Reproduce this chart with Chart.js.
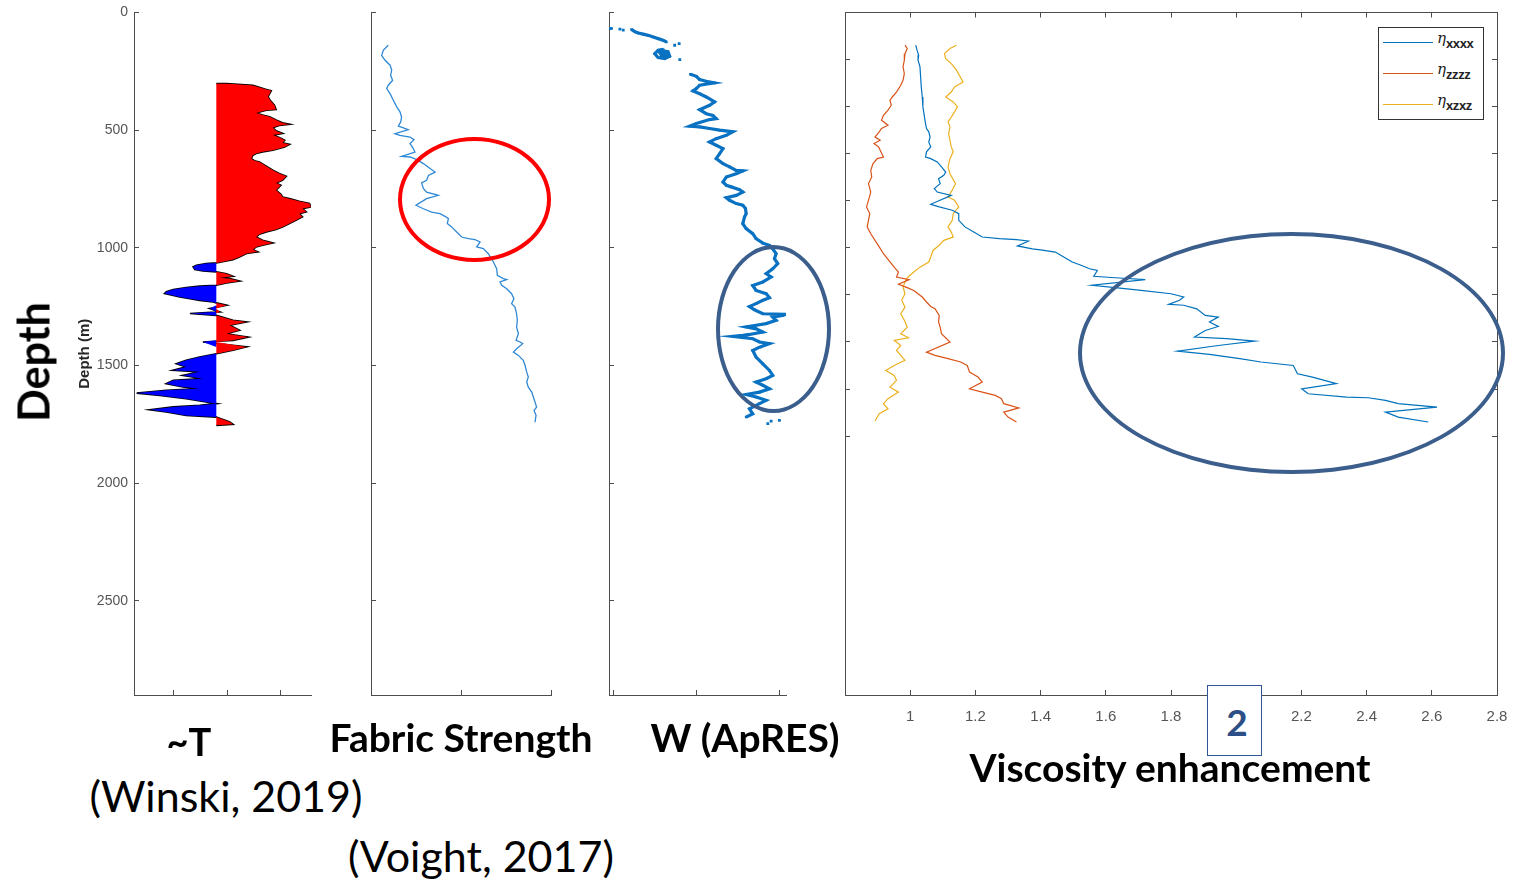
<!DOCTYPE html>
<html>
<head>
<meta charset="utf-8">
<script src="https://cdn.jsdelivr.net/npm/chart.js@4.4.1/dist/chart.umd.min.js"></script>
<style>
  html, body { margin: 0; padding: 0; background: #fff; }
  #stage { position: relative; width: 1515px; height: 879px; overflow: hidden; background: #fff; }
  #stage canvas { position: absolute; top: 0; }
  .lbl { position: absolute; transform: translate(-50%, -50%); white-space: nowrap;
         font-family: Lato, 'Open Sans', sans-serif; color: #000; }
  .bold { font-weight: 700; }
  .ring { position: absolute; box-sizing: border-box; border-radius: 50%; }
  #legend { position: absolute; left: 1378px; top: 27px; width: 106px; height: 93px;
            box-sizing: border-box; border: 1px solid #333; background: #fff; }
  .legRow { position: relative; height: 31px; }
  .legLine { position: absolute; left: 4px; top: 14px; width: 50px; border-top: 1.3px solid; }
  .legText { position: absolute; left: 58px; top: 1px; font-family: 'DejaVu Serif', serif; font-size: 15px; color: #222; }
  .legText sub { font-family: 'Liberation Sans', sans-serif; font-weight: 700; font-size: 13px; vertical-align: -5px; letter-spacing: -0.4px; }
  #boxTwo { position: absolute; left: 1207px; top: 685px; width: 55px; height: 71px; box-sizing: border-box;
            border: 1.5px solid #2F5597; background: #fff; }
</style>
</head>
<body>
<div id="stage">
  <canvas id="chartT" width="290" height="740" style="left:40px"></canvas>
  <canvas id="chartFabric" width="240" height="740" style="left:331px"></canvas>
  <canvas id="chartApres" width="235" height="740" style="left:571px"></canvas>
  <canvas id="chartVisc" width="710" height="740" style="left:805px"></canvas>

  <div class="ring" style="left:398px;top:137px;width:153px;height:125px;border:4.5px solid #FF0000"></div>
  <div class="ring" style="left:716px;top:245px;width:115px;height:168px;border:4px solid #3B5E8C"></div>
  <div class="ring" style="left:1078px;top:232px;width:427px;height:242px;border:4.5px solid #3B5E8C"></div>

  <div id="legend"></div>
  <div id="boxTwo"></div>
  <div class="lbl bold" style="left:1237px;top:721px;font-size:37px;color:#2B4F86">2</div>

  <div class="lbl bold" style="left:33px;top:362px;font-size:43px;transform:translate(-50%,-50%) rotate(-90deg)">Depth</div>
  <div class="lbl bold" style="left:189px;top:741px;font-size:38px">~T</div>
  <div class="lbl bold" style="left:461px;top:737px;font-size:39px">Fabric Strength</div>
  <div class="lbl bold" style="left:745px;top:737px;font-size:39px">W (ApRES)</div>
  <div class="lbl bold" style="left:1170px;top:767px;font-size:39px">Viscosity enhancement</div>
  <div class="lbl" style="left:226px;top:795px;font-size:43px">(Winski, 2019)</div>
  <div class="lbl" style="left:481px;top:855px;font-size:43px">(Voight, 2017)</div>
</div>

<script>
// ---- data: [depth (m), value] ----
const depthTicks = [0, 500, 1000, 1500, 2000, 2500];
const viscDepthTicks = [200, 400, 600, 800, 1000, 1200, 1400, 1600, 1800];
const tempTicks = [-0.8, 0.2, 1.2];
const fabricTicks = [0, 0.5, 1];
const apresTicks = [0, 0.5, 1];
const viscTicks = [1, 1.2, 1.4, 1.6, 1.8, 2, 2.2, 2.4, 2.6, 2.8];

const tempProfile = [
  [302,0],[302,0.19],[310,0.68],[327,0.93],[333,1.02],[358,0.96],[373,1.00],[394,1.08],[412,1.11],[415,0.93],
  [427,0.74],[436,0.86],[443,0.99],[457,1.11],[469,1.23],[475,1.36],[480,1.17],[489,1.05],[503,1.11],[514,1.23],
  [521,1.05],[531,1.17],[543,1.27],[554,1.23],[560,1.36],[571,1.27],[578,1.17],[585,1.05],[592,0.86],[599,0.74],
  [606,0.68],[621,0.65],[630,0.71],[635,0.80],[653,0.93],[670,1.05],[684,1.17],[696,1.30],[713,1.23],[724,1.11],
  [734,1.20],[755,1.11],[772,1.20],[784,1.23],[791,1.36],[802,1.54],[812,1.73],[826,1.76],[833,1.60],[847,1.67],
  [855,1.54],[868,1.60],[883,1.48],[897,1.36],[911,1.23],[922,1.11],[932,0.93],[942,0.80],[954,0.74],[968,0.86],
  [979,1.05],[989,0.86],[996,0.74],[1008,0.68],[1017,0.77],[1024,0.56],[1039,0.43],[1050,0.31],[1056,0.19],[1064,0],
  [1067,-0.19],[1074,-0.37],[1081,-0.43],[1092,-0.40],[1098,-0.25],[1102,0],[1110,0.19],[1121,0.31],[1127,0.06],[1131,0.25],
  [1141,0.43],[1149,0.19],[1159,0],[1163,-0.31],[1169,-0.56],[1177,-0.80],[1187,-0.93],[1194,-0.96],[1202,-0.80],[1209,-0.68],
  [1216,-0.49],[1223,-0.31],[1230,-0.06],[1234,0],[1244,0.19],[1258,-0.12],[1272,0.06],[1279,-0.49],[1287,0],[1308,0.31],
  [1315,0.56],[1329,0.25],[1350,0.43],[1365,0.19],[1379,0.59],[1393,0.31],[1400,-0.25],[1421,0.56],[1435,0.31],[1450,0],
  [1464,-0.31],[1478,-0.56],[1492,-0.74],[1506,-0.56],[1520,-0.80],[1527,-0.31],[1542,-0.62],[1556,-0.25],[1563,-0.80],[1577,-0.93],
  [1591,-0.62],[1598,-0.31],[1605,-0.93],[1617,-1.48],[1627,-1.05],[1641,-0.56],[1655,-0.19],[1662,0],[1669,-0.31],[1676,-0.80],
  [1688,-1.23],[1697,-0.93],[1712,-0.56],[1719,0],[1740,0.25],[1750,0.31],[1754,0]
];

const fabricStrength = [
  [139,0.096],[160,0.069],[182,0.059],[203,0.078],[224,0.106],[245,0.115],[267,0.109],[288,0.120],[309,0.096],[323,0.087],
  [345,0.106],[373,0.124],[401,0.143],[422,0.161],[444,0.170],[465,0.165],[483,0.152],[489,0.176],[498,0.207],[515,0.133],
  [522,0.161],[529,0.217],[540,0.239],[557,0.217],[578,0.235],[593,0.244],[611,0.170],[614,0.217],[625,0.254],[642,0.291],
  [663,0.328],[678,0.356],[692,0.319],[713,0.309],[724,0.281],[748,0.291],[763,0.309],[777,0.374],[791,0.309],[819,0.250],
  [834,0.291],[848,0.337],[855,0.383],[866,0.411],[876,0.430],[897,0.424],[911,0.448],[933,0.476],[954,0.504],[961,0.541],
  [965,0.578],[975,0.606],[996,0.587],[1003,0.624],[1025,0.652],[1060,0.680],[1089,0.698],[1117,0.702],[1131,0.735],[1135,0.754],
  [1145,0.717],[1159,0.726],[1174,0.754],[1195,0.781],[1216,0.794],[1237,0.781],[1252,0.800],[1280,0.809],[1308,0.813],[1337,0.809],
  [1365,0.819],[1393,0.806],[1400,0.828],[1407,0.843],[1429,0.809],[1443,0.791],[1457,0.819],[1478,0.846],[1500,0.856],[1528,0.865],
  [1549,0.874],[1570,0.865],[1592,0.874],[1613,0.893],[1634,0.902],[1677,0.920],[1691,0.906],[1712,0.917],[1741,0.911]
];

// ApRES vertical velocity trace; null marks a break in the record
const apresW = [
  [68,-0.048],[68,-0.014],[68,null],
  [72,0.106],[82,0.127],[87,0.147],[92,0.177],[97,0.207],[104,0.237],[111,0.267],[118,0.297],[125,0.317],[125,null],
  [157,0.297],[160,0.267],[175,0.247],[191,0.267],[196,0.307],[186,0.337],[167,0.327],[162,0.297],[170,0.277],[182,0.287],
  [188,0.307],[178,0.317],[172,0.297],[172,null],
  [262,0.462],[271,0.498],[285,0.518],[292,0.558],[299,0.608],[309,0.518],[323,0.498],[333,0.478],[345,0.518],[359,0.558],
  [380,0.608],[394,0.578],[413,0.518],[430,0.558],[437,0.598],[451,0.618],[455,0.578],[472,0.498],[483,0.458],[486,0.518],
  [493,0.578],[500,0.639],[507,0.719],[522,0.679],[536,0.618],[550,0.578],[564,0.618],[578,0.659],[600,0.639],[621,0.618],
  [642,0.659],[656,0.699],[671,0.739],[673,0.779],[685,0.739],[699,0.679],[720,0.659],[734,0.679],[741,0.709],[753,0.759],
  [763,0.779],[777,0.739],[787,0.679],[798,0.699],[812,0.739],[819,0.779],[833,0.795],[855,0.799],[869,0.789],[897,0.779],
  [918,0.799],[940,0.839],[961,0.859],[980,0.900],[990,0.940],[1004,0.960],[1025,0.980],[1046,0.970],[1067,0.990],[1089,0.960],
  [1110,0.920],[1124,0.950],[1145,0.900],[1160,0.839],[1181,0.859],[1195,0.920],[1212,0.940],[1223,0.900],[1237,0.859],[1249,0.819],
  [1263,0.849],[1280,0.900],[1283,1.040],[1287,1.020],[1294,0.960],[1308,0.980],[1322,0.920],[1329,0.859],[1336,0.799],[1344,0.859],
  [1358,0.900],[1368,0.819],[1372,0.779],[1376,0.719],[1386,0.839],[1400,0.880],[1407,0.940],[1422,0.880],[1436,0.839],[1464,0.859],
  [1493,0.900],[1521,0.940],[1542,0.960],[1556,0.920],[1570,0.859],[1584,0.900],[1599,0.940],[1613,0.880],[1623,0.799],[1634,0.859],
  [1648,0.920],[1662,0.880],[1684,0.819],[1705,0.839],[1719,0.799]
];
const apresDots = [[71,0.036],[75,0.056],[132,0.394],[139,0.367],[200,0.398],[1736,0.950],[1733,1.000],[1747,0.930]];

const etaXXXX = [
  [139,1.017],[160,1.021],[182,1.026],[203,1.024],[231,1.030],[274,1.032],[316,1.034],[359,1.037],[401,1.039],[437,1.043],
  [472,1.047],[493,1.050],[507,1.057],[529,1.061],[550,1.057],[571,1.063],[592,1.050],[614,1.047],[621,1.063],[635,1.083],
  [656,1.096],[678,1.109],[692,1.103],[706,1.087],[727,1.092],[748,1.074],[763,1.083],[777,1.126],[815,1.063],[826,1.089],
  [840,1.129],[855,1.149],[883,1.149],[911,1.168],[933,1.195],[954,1.221],[961,1.274],[965,1.326],[971,1.363],[992,1.329],
  [1004,1.375],[1010,1.405],[1018,1.445],[1039,1.471],[1060,1.497],[1074,1.524],[1089,1.550],[1096,1.574],[1121,1.563],[1127,1.629],
  [1135,1.721],[1159,1.557],[1169,1.629],[1181,1.708],[1195,1.800],[1209,1.839],[1223,1.826],[1240,1.793],[1244,1.839],[1259,1.879],
  [1287,1.905],[1294,1.945],[1315,1.918],[1334,1.945],[1351,1.905],[1379,1.872],[1386,1.971],[1396,2.057],[1415,1.945],[1439,1.820],
  [1453,1.918],[1471,2.011],[1485,2.076],[1500,2.175],[1535,2.188],[1549,2.234],[1577,2.307],[1599,2.201],[1620,2.221],[1634,2.339],
  [1637,2.405],[1648,2.458],[1662,2.497],[1677,2.616],[1698,2.458],[1719,2.497],[1740,2.589]
];
const etaZZZZ = [
  [139,0.984],[153,0.991],[175,0.984],[203,0.982],[231,0.978],[260,0.982],[288,0.978],[309,0.971],[338,0.958],[359,0.945],
  [373,0.938],[394,0.942],[415,0.932],[437,0.918],[458,0.912],[479,0.932],[493,0.912],[507,0.905],[529,0.892],[543,0.908],
  [557,0.889],[571,0.903],[614,0.918],[621,0.899],[642,0.886],[671,0.879],[699,0.882],[727,0.872],[763,0.879],[798,0.872],
  [826,0.866],[855,0.876],[883,0.872],[911,0.868],[940,0.879],[968,0.892],[996,0.905],[1025,0.918],[1060,0.938],[1082,0.951],
  [1103,0.964],[1124,0.958],[1135,0.997],[1155,0.964],[1169,0.991],[1181,1.011],[1209,1.037],[1230,1.050],[1249,1.063],[1259,1.076],
  [1287,1.089],[1315,1.087],[1337,1.092],[1365,1.096],[1400,1.122],[1443,1.050],[1457,1.076],[1471,1.116],[1485,1.155],[1500,1.175],
  [1528,1.182],[1549,1.208],[1570,1.221],[1599,1.182],[1613,1.221],[1627,1.261],[1641,1.280],[1662,1.287],[1680,1.333],[1698,1.287],
  [1719,1.300],[1740,1.326]
];
const etaXZXZ = [
  [139,1.142],[153,1.122],[175,1.105],[196,1.109],[217,1.126],[245,1.142],[295,1.162],[316,1.136],[338,1.126],[359,1.109],
  [380,1.132],[401,1.145],[422,1.136],[444,1.126],[465,1.116],[486,1.122],[515,1.118],[543,1.122],[571,1.126],[592,1.132],
  [621,1.122],[656,1.116],[685,1.122],[727,1.139],[755,1.129],[784,1.116],[798,1.136],[826,1.149],[855,1.132],[883,1.129],
  [911,1.116],[933,1.126],[954,1.132],[968,1.103],[989,1.089],[1011,1.070],[1039,1.063],[1060,1.057],[1082,1.030],[1103,1.011],
  [1127,0.991],[1145,0.984],[1166,0.978],[1195,0.984],[1223,0.974],[1252,0.984],[1280,0.971],[1308,0.982],[1337,0.991],[1365,0.971],
  [1382,0.995],[1393,0.951],[1415,0.971],[1436,0.958],[1457,0.971],[1478,0.984],[1500,0.951],[1521,0.925],[1542,0.951],[1563,0.958],
  [1592,0.938],[1613,0.964],[1641,0.932],[1662,0.918],[1684,0.932],[1705,0.905],[1736,0.892]
];

// ---- shared styling ----
const AXIS = '#4d4d4d';
const DEPTH_MAX = 2900;
Chart.defaults.font.family = "'Liberation Sans', Arial, sans-serif";
Chart.defaults.animation = false;

const pts = (rows, fn) => rows.map(([d, v]) => ({ x: v === null ? null : (fn ? fn(v) : v), y: d }));
const fixedTicks = list => scale => { scale.ticks = list.map(v => ({ value: v })); };

// fixed axis sizes so every panel's plot box sits where it should; edge labels must not shrink it
function depthAxis(width, list, extra) {
  return Object.assign({
    type: 'linear', position: 'left', reverse: true, min: 0, max: DEPTH_MAX,
    afterBuildTicks: fixedTicks(list),
    afterFit: s => { s.width = width; s.paddingTop = 0; s.paddingBottom = 0; },
    grid: { drawOnChartArea: false, tickLength: -5, color: AXIS, tickWidth: 1 },
    border: { color: AXIS, width: 1 },
    ticks: { display: false }
  }, extra || {});
}
function valueAxis(min, max, list, height, extra) {
  return Object.assign({
    type: 'linear', position: 'bottom', min, max,
    afterBuildTicks: fixedTicks(list),
    afterFit: s => { s.height = height; s.paddingLeft = 0; s.paddingRight = 0; },
    grid: { drawOnChartArea: false, tickLength: -5, color: AXIS, tickWidth: 1 },
    border: { color: AXIS, width: 1 },
    ticks: { display: false }
  }, extra || {});
}
const baseOptions = (scales, padding) => ({
  responsive: false, devicePixelRatio: 1, indexAxis: 'y',
  layout: { padding },
  plugins: { legend: { display: false }, tooltip: { enabled: false } },
  elements: { point: { radius: 0 }, line: { tension: 0 } },
  scales
});

// ---- ~T: warm/cold fill around the baseline ----
new Chart(document.getElementById('chartT'), {
  type: 'line',
  data: { datasets: [
    { data: pts(tempProfile, v => Math.max(v, 0)), borderWidth: 0, fill: 'origin', backgroundColor: '#FF0000' },
    { data: pts(tempProfile, v => Math.min(v, 0)), borderWidth: 0, fill: 'origin', backgroundColor: '#0000FF' },
    { data: pts(tempProfile), borderColor: '#000', borderWidth: 1.7, fill: false }
  ]},
  options: baseOptions({
    y: depthAxis(94, depthTicks, {
      ticks: { display: true, padding: 11, color: '#555', font: { size: 14 }, callback: v => String(v) },
      title: { display: true, text: 'Depth (m)', color: '#262626', font: { size: 15, weight: 'bold' }, padding: { top: 36, bottom: 0 } }
    }),
    x: valueAxis(-1.53, 1.76, tempTicks, 45)
  }, { left: 0, top: 12.5, right: 19, bottom: 0 })
});

// ---- Fabric strength ----
new Chart(document.getElementById('chartFabric'), {
  type: 'line',
  data: { datasets: [
    { data: pts(fabricStrength), borderColor: '#2F89D6', borderWidth: 1.3, fill: false }
  ]},
  options: baseOptions({
    y: depthAxis(40, depthTicks),
    x: valueAxis(0, 1, fabricTicks, 45)
  }, { left: 0, top: 12.5, right: 20, bottom: 0 })
});

// ---- W (ApRES) ----
new Chart(document.getElementById('chartApres'), {
  type: 'line',
  data: { datasets: [
    { data: pts(apresW), borderColor: '#0A72C2', borderWidth: 3.2, fill: false, spanGaps: false,
      pointRadius: 1.8, pointStyle: 'rect', pointBackgroundColor: '#0A72C2', pointBorderWidth: 0 },
    { data: pts(apresDots), showLine: false, pointRadius: 2, pointStyle: 'rect',
      pointBackgroundColor: '#0A72C2', pointBorderWidth: 0 }
  ]},
  options: baseOptions({
    y: depthAxis(38, depthTicks),
    x: valueAxis(-0.03, 1.04, apresTicks, 45)
  }, { left: 0, top: 12.5, right: 20, bottom: 0 })
});

// ---- Viscosity enhancement, with an HTML legend for the subscripts ----
const htmlLegend = {
  id: 'htmlLegend',
  afterUpdate(chart) {
    const box = document.getElementById('legend');
    box.innerHTML = '';
    chart.options.plugins.legend.labels.generateLabels(chart).forEach(item => {
      const row = document.createElement('div');
      row.className = 'legRow';
      const line = document.createElement('span');
      line.className = 'legLine';
      line.style.borderTopColor = item.strokeStyle;
      const text = document.createElement('span');
      text.className = 'legText';
      text.innerHTML = '<i>' + item.text.charAt(0) + '</i><sub>' + item.text.slice(1) + '</sub>';
      row.appendChild(line);
      row.appendChild(text);
      box.appendChild(row);
    });
  }
};

new Chart(document.getElementById('chartVisc'), {
  type: 'line',
  data: { datasets: [
    { label: 'ηxxxx', data: pts(etaXXXX), borderColor: '#0072BD', borderWidth: 1.2, fill: false },
    { label: 'ηzzzz', data: pts(etaZZZZ), borderColor: '#D95319', borderWidth: 1.2, fill: false },
    { label: 'ηxzxz', data: pts(etaXZXZ), borderColor: '#EDB120', borderWidth: 1.2, fill: false }
  ]},
  options: baseOptions({
    y: depthAxis(40, viscDepthTicks),
    y2: depthAxis(18, viscDepthTicks, { position: 'right' }),
    x: valueAxis(0.8, 2.8, viscTicks, 45, {
      ticks: { display: true, padding: 18, color: '#555', font: { size: 15 },
               callback: v => Number(v.toFixed(1)).toString() }
    }),
    x2: valueAxis(0.8, 2.8, viscTicks, 12.5, { position: 'top' })
  }, { left: 0, top: 0, right: 0, bottom: 0 }),
  plugins: [htmlLegend]
});
</script>
</body>
</html>
